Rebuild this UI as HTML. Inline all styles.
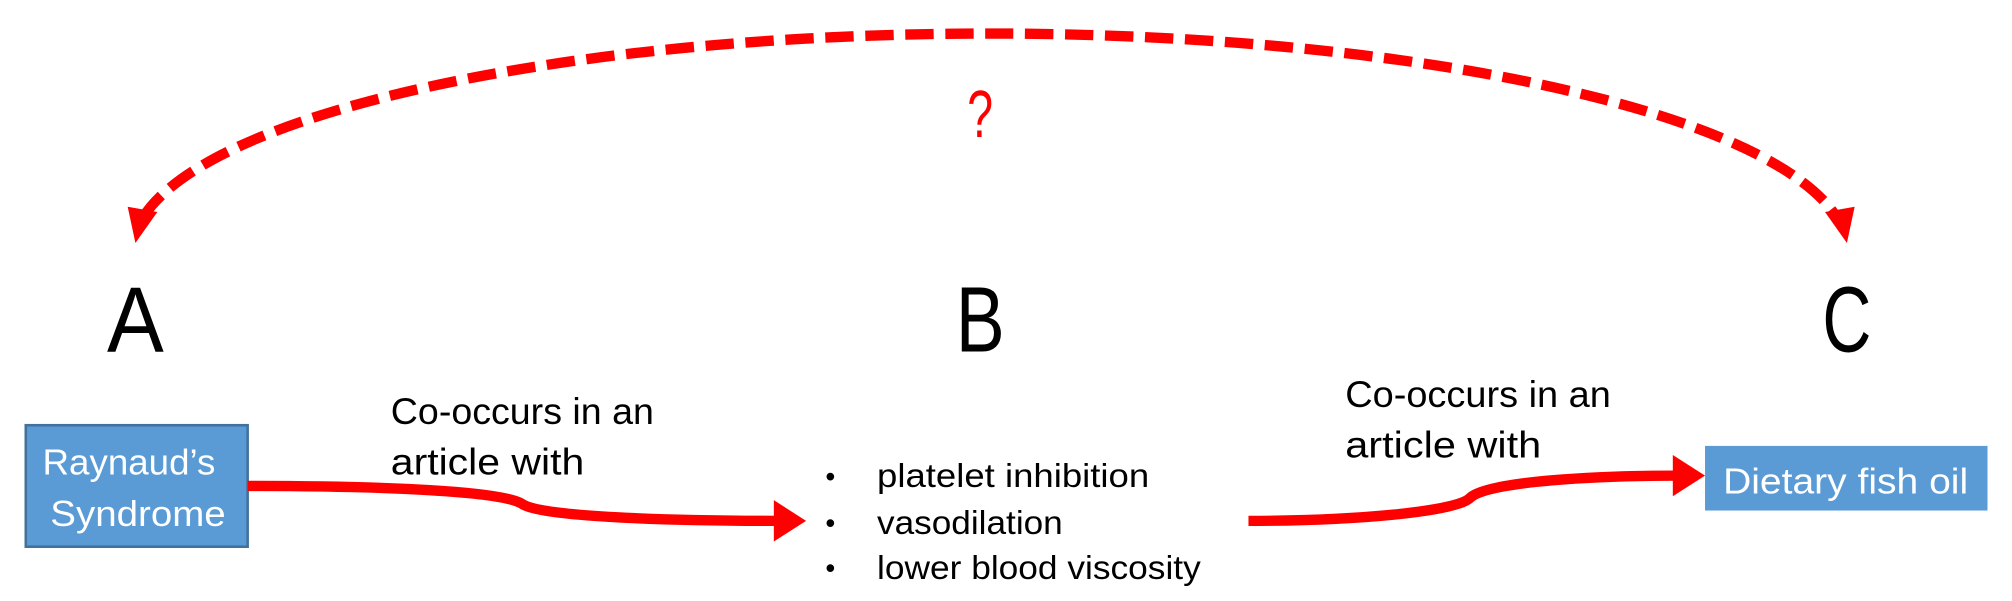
<!DOCTYPE html>
<html><head><meta charset="utf-8"><style>
html,body{margin:0;padding:0;background:#fff;overflow:hidden}
svg{display:block}
text{font-family:"Liberation Sans",sans-serif}
</style></head><body>
<svg width="2012" height="601" viewBox="0 0 1560 465" preserveAspectRatio="none">
  <g>
    <path d="M111,168 A665 169 0 0 1 1424,168" fill="none" stroke="#ff0000" stroke-width="8" stroke-dasharray="22,9"/>
    <polygon points="105,188 99,160 122,164" fill="#ff0000"/>
    <polygon points="1432,188 1438,160 1415,164" fill="#ff0000"/>
  </g>
  <text x="760" y="106" font-size="52" fill="#ff0000" text-anchor="middle" textLength="20" lengthAdjust="spacingAndGlyphs">?</text>
  <text x="105" y="272" font-size="72" text-anchor="middle" textLength="44" lengthAdjust="spacingAndGlyphs">A</text>
  <text x="760" y="272" font-size="72" text-anchor="middle" textLength="38" lengthAdjust="spacingAndGlyphs">B</text>
  <text x="1432" y="272" font-size="72" text-anchor="middle" textLength="38" lengthAdjust="spacingAndGlyphs">C</text>

  <g>
    <rect x="20" y="329" width="172" height="94" fill="#5b9bd5" stroke="#41719c" stroke-width="2"/>
    <text x="100" y="367" font-size="28" fill="#fff" text-anchor="middle" textLength="134" lengthAdjust="spacingAndGlyphs">Raynaud’s</text>
    <text x="107" y="407" font-size="28" fill="#fff" text-anchor="middle" textLength="136" lengthAdjust="spacingAndGlyphs">Syndrome</text>
  </g>

  <g>
    <text x="303" y="328" font-size="29" textLength="204" lengthAdjust="spacingAndGlyphs">Co-occurs in an</text>
    <text x="303" y="367" font-size="29" textLength="150" lengthAdjust="spacingAndGlyphs">article with</text>
  </g>

  <g>
    <path d="M192,376 C300,376 390,380 405,390 C420,400 520,403 605,403" fill="none" stroke="#ff0000" stroke-width="8"/>
    <polygon points="600,387 625,403 600,419" fill="#ff0000"/>
  </g>

  <g>
    <text x="640" y="376" font-size="22">•</text>
    <text x="680" y="377" font-size="26" textLength="211" lengthAdjust="spacingAndGlyphs">platelet inhibition</text>
    <text x="640" y="412" font-size="22">•</text>
    <text x="680" y="413" font-size="26" textLength="144" lengthAdjust="spacingAndGlyphs">vasodilation</text>
    <text x="640" y="447" font-size="22">•</text>
    <text x="680" y="448" font-size="26" textLength="251" lengthAdjust="spacingAndGlyphs">lower blood viscosity</text>
  </g>

  <g>
    <text x="1043" y="315" font-size="29" textLength="206" lengthAdjust="spacingAndGlyphs">Co-occurs in an</text>
    <text x="1043" y="354" font-size="29" textLength="152" lengthAdjust="spacingAndGlyphs">article with</text>
  </g>

  <g>
    <path d="M968,403 C1050,403 1130,396 1140,385 C1155,372 1240,368 1302,368" fill="none" stroke="#ff0000" stroke-width="8"/>
    <polygon points="1297,352 1322,368 1297,384" fill="#ff0000"/>
  </g>

  <g>
    <rect x="1322" y="345" width="219" height="50" fill="#5b9bd5"/>
    <text x="1431" y="382" font-size="28" fill="#fff" text-anchor="middle" textLength="190" lengthAdjust="spacingAndGlyphs">Dietary fish oil</text>
  </g>
</svg>
</body></html>
